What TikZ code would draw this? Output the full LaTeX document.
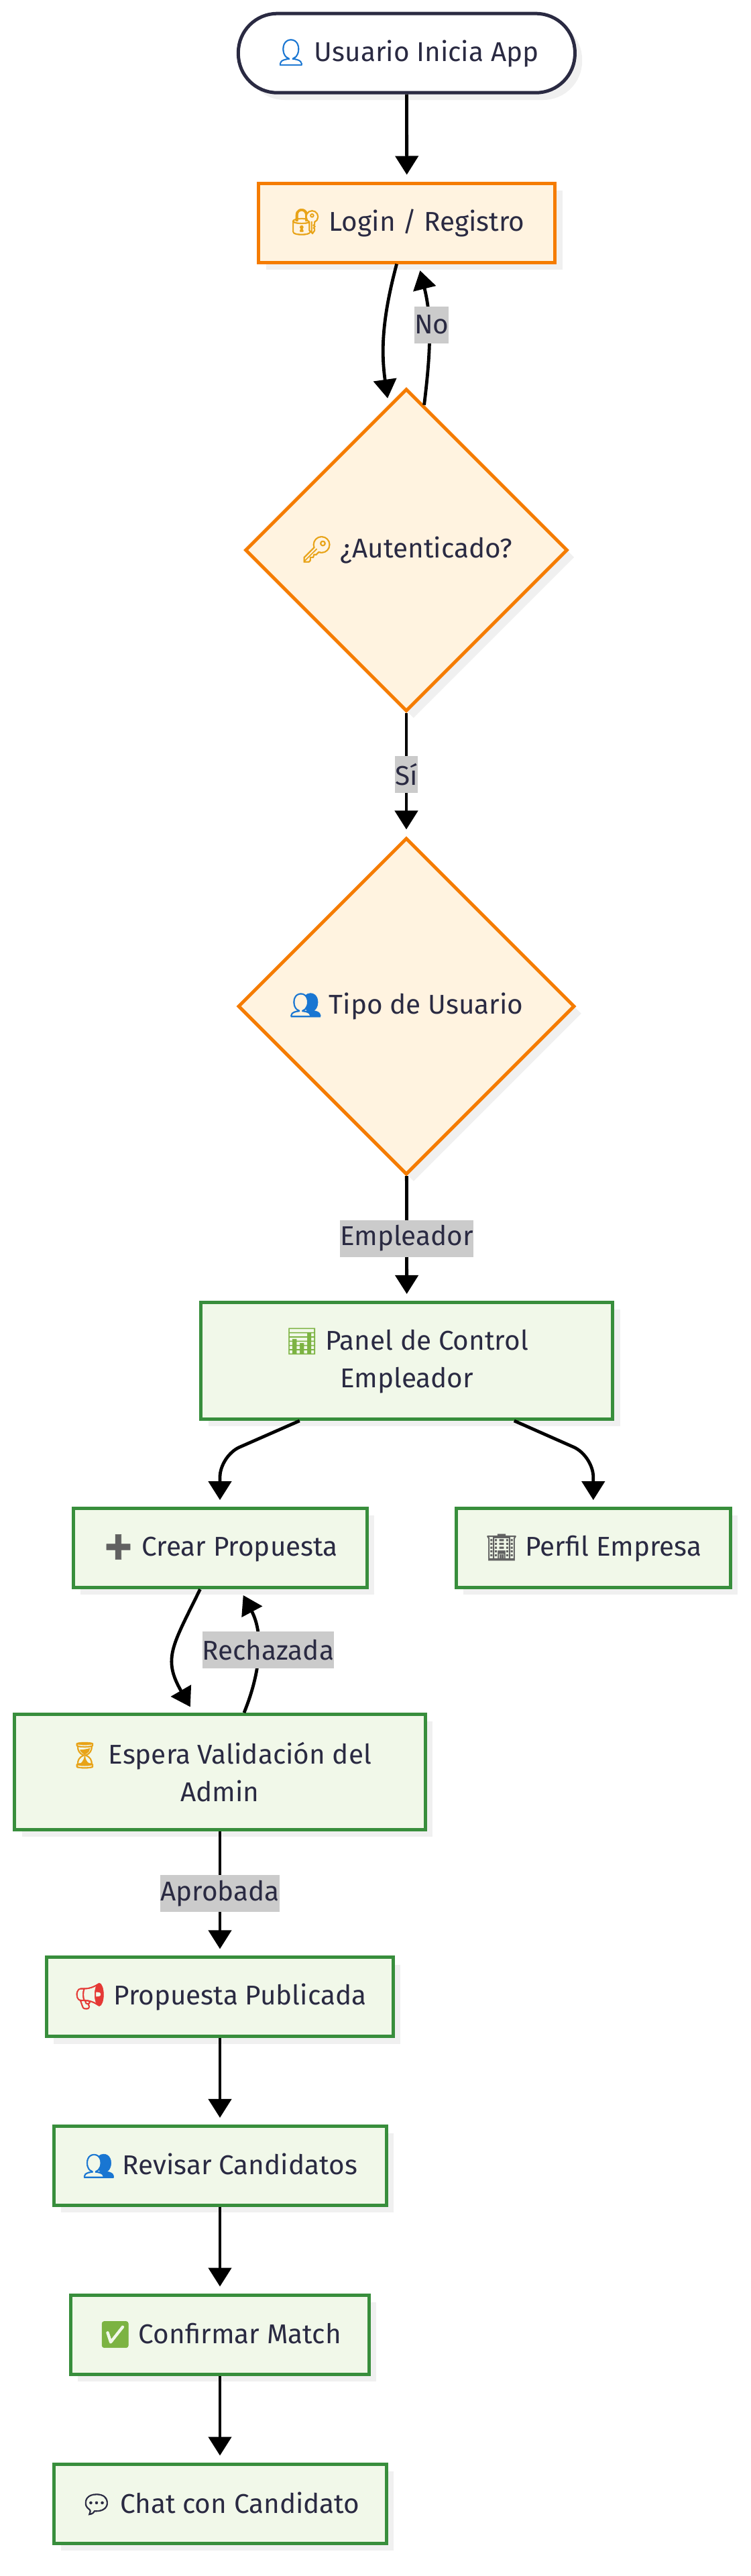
\documentclass[tikz,border=0pt]{standalone}
\usepackage{fontspec}
\usepackage{xcolor}
\setmainfont{Fira Sans}
\newfontfamily\emojifont[Scale=0.95,FakeBold=1.5]{Noto Emoji}
\usetikzlibrary{shapes,shapes.geometric,arrows.meta,positioning,calc,shadows}
\definecolor{inktext}{HTML}{2A2A42}
\definecolor{amberline}{HTML}{F57C00}
\definecolor{amberfill}{HTML}{FFF3E0}
\definecolor{leafline}{HTML}{388E3C}
\definecolor{leaffill}{HTML}{F1F8E9}
\definecolor{shadowgray}{HTML}{F0F0F0}
\definecolor{labelgray}{HTML}{CBCBCB}
\definecolor{emoblue}{HTML}{1976D2}
\definecolor{emogold}{HTML}{E8A317}
\definecolor{emogray}{HTML}{616161}
\definecolor{emored}{HTML}{E53935}
\definecolor{emogreen}{HTML}{7CB342}
\newcommand{\emo}[2]{\textcolor{#1}{\emojifont #2}}
\begin{document}
\begin{tikzpicture}[
    font=\fontsize{28.8}{39.8}\selectfont,
    text=inktext,
    softshadow/.style={drop shadow={shadow xshift=.27cm, shadow yshift=-.27cm, fill=shadowgray, opacity=1}},
    startbox/.style={rectangle, rounded corners=1.45cm, draw=inktext, fill=white, line width=.125cm, minimum width=12.55cm, minimum height=2.95cm, softshadow},
    authbox/.style={rectangle, draw=amberline, fill=amberfill, line width=.125cm, minimum width=11.05cm, minimum height=2.95cm, softshadow},
    authdiamond/.style={diamond, shape aspect=1, inner sep=0pt, draw=amberline, fill=amberfill, line width=.125cm, softshadow},
    stepbox/.style={rectangle, draw=leafline, fill=leaffill, line width=.125cm, minimum height=2.95cm, align=center, softshadow},
    flow/.style={-{Triangle[width=.85cm,length=.7cm]}, line width=.12cm, black, shorten >=.25cm},
    edgelabel/.style={fill=labelgray, text=inktext, inner xsep=0pt, inner ysep=0pt, minimum height=1.375cm}
]
    \useasboundingbox (0,0) rectangle (28,-96);

    % Entry and authentication
    \node[startbox] (usuario) at (15.16,-1.98) {\emo{emoblue}{👤} Usuario Inicia App};
    \node[authbox] (login) at (15.17,-8.3) {\emo{emogold}{🔐} Login / Registro};
    \node[authdiamond, minimum size=12.02cm] (auth) at (15.15,-20.5) {\emo{emogold}{🔑} ¿Autenticado?};
    \node[authdiamond, minimum size=12.55cm] (tipo) at (15.15,-37.5) {\emo{emoblue}{👥} Tipo de Usuario};

    % Employer steps
    \node[stepbox, minimum width=15.35cm, minimum height=4.35cm] (panel) at (15.17,-50.71) {\emo{emogreen}{📊} Panel de Control\\Empleador};
    \node[stepbox, minimum width=10.95cm] (crear) at (8.2,-57.69) {\emo{emogray}{➕} Crear Propuesta};
    \node[stepbox, minimum width=10.23cm] (perfil) at (22.12,-57.69) {\emo{emogray}{🏢} Perfil Empresa};
    \node[stepbox, minimum width=15.3cm, minimum height=4.3cm] (espera) at (8.2,-66.04) {\emo{emogold}{⏳} Espera Validación del\\Admin};
    \node[stepbox, minimum width=12.92cm] (publicada) at (8.2,-74.42) {\emo{emored}{📢} Propuesta Publicada};
    \node[stepbox, minimum width=12.4cm] (revisar) at (8.2,-80.71) {\emo{emoblue}{👥} Revisar Candidatos};
    \node[stepbox, minimum width=11.12cm] (confirmar) at (8.2,-87) {\emo{emogreen}{✅} Confirmar Match};
    \node[stepbox, minimum width=12.4cm] (chat) at (8.2,-93.3) {\emo{inktext}{💬} Chat con Candidato};

    % Connectors
    \draw[flow] (usuario) -- (login);
    \draw[flow] ([xshift=-.38cm]login.south) to[out=255, in=98] (auth.97);
    \draw[flow] (auth.83) to[out=83, in=-76] node[edgelabel, pos=.57, xshift=.12cm] (nolabel) {No} ([xshift=.43cm]login.south);
    \draw[flow] (auth) -- node[edgelabel, pos=.5] (silabel) {Sí} (tipo);
    \draw[flow] (tipo) -- node[edgelabel, pos=.5] (emplabel) {Empleador} (panel);
    \draw[flow, rounded corners=.8cm] ([xshift=-4cm]panel.south) -- ([yshift=1.9cm]crear.north) -- (crear.north);
    \draw[flow, rounded corners=.8cm] ([xshift=4cm]panel.south) -- ([yshift=1.9cm]perfil.north) -- (perfil.north);
    \draw[flow] ([xshift=-.74cm]crear.south) to[out=244, in=120, looseness=1.3] ([xshift=-.98cm]espera.north);
    \draw[flow] ([xshift=.9cm]espera.north) to[out=68, in=-62] node[edgelabel, pos=.5, xshift=.4cm] (rechlabel) {Rechazada} ([xshift=.75cm]crear.south);
    \draw[flow] (espera) -- node[edgelabel, pos=.5] (aprolabel) {Aprobada} (publicada);
    \draw[flow] (publicada) -- (revisar);
    \draw[flow] (revisar) -- (confirmar);
    \draw[flow] (confirmar) -- (chat);
\end{tikzpicture}
\end{document}
